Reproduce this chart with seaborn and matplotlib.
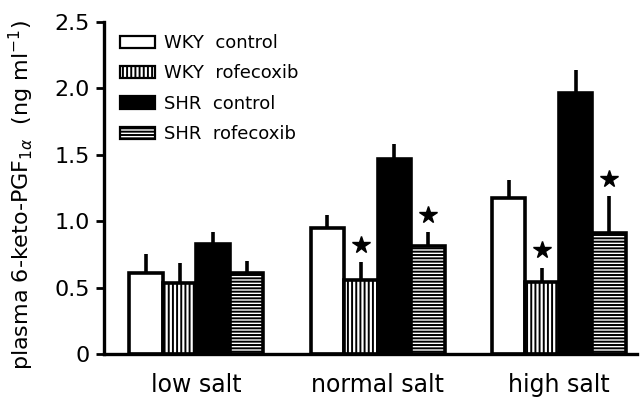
import pandas as pd
import matplotlib
matplotlib.use('Agg')
import matplotlib.pyplot as plt
import seaborn as sns
from matplotlib.patches import Patch

diets = ['low salt', 'normal salt', 'high salt']
groups = ['WKY  control', 'WKY  rofecoxib', 'SHR  control', 'SHR  rofecoxib']

# means and (upper) SEM, one list per group across diets
wky_control = [0.61, 0.95, 1.175]
wky_control_err = [0.14, 0.10, 0.135]
wky_rofecoxib = [0.535, 0.56, 0.54]
wky_rofecoxib_err = [0.15, 0.13, 0.11]
shr_control = [0.83, 1.47, 1.965]
shr_control_err = [0.09, 0.11, 0.175]
shr_rofecoxib = [0.61, 0.81, 0.91]
shr_rofecoxib_err = [0.09, 0.11, 0.28]
# significance stars per group
stars = [[False, False, False], [False, True, True],
         [False, False, False], [False, True, True]]

means = [wky_control, wky_rofecoxib, shr_control, shr_rofecoxib]
errs = [wky_control_err, wky_rofecoxib_err, shr_control_err, shr_rofecoxib_err]

df = pd.DataFrame({
    'diet': diets * 4,
    'group': [g for g in groups for _ in diets],
    'value': sum(means, []),
})

sns.set_style('ticks')
plt.rcParams['font.family'] = ['DejaVu Sans']
plt.rcParams['hatch.linewidth'] = 1.4
for k in ['text.color', 'axes.labelcolor', 'xtick.color', 'ytick.color']:
    plt.rcParams[k] = 'black'

fig = plt.figure(figsize=(6.4, 4), dpi=100)
ax = fig.add_axes([0.1625, 0.115, 0.8325, 0.83])

colors = ['white', 'white', 'black', 'white']
hatches = ['', '||||', '', '-----']
sns.barplot(data=df, x='diet', y='value', hue='group', order=diets, hue_order=groups,
            palette=colors, edgecolor='black', linewidth=2.6, width=0.74,
            errorbar=None, legend=False, saturation=1, ax=ax)

for i, cont in enumerate(ax.containers):
    for j, bar in enumerate(cont):
        bar.set_hatch(hatches[i])
        bar.set_edgecolor('black')
        x = bar.get_x() + bar.get_width() / 2
        top = means[i][j] + errs[i][j]
        ax.vlines(x, means[i][j], top, color='black', lw=2.6, zorder=1)
        if stars[i][j]:
            ax.plot(x, top + 0.13, marker='*', color='black', markersize=13, zorder=3)

handles = [Patch(facecolor=c, edgecolor='black', hatch=h, lw=1.6) for c, h in zip(colors, hatches)]
ax.legend(handles, groups, loc='upper left', bbox_to_anchor=(0.017, 0.985), frameon=False,
          fontsize=13, handlelength=1.95, handleheight=0.67, handletextpad=0.45,
          labelspacing=0.68, borderaxespad=0)

ax.set_xlim(-0.51, 2.43)
ax.set_ylim(0, 2.5)
ax.set_yticks([0, 0.5, 1.0, 1.5, 2.0, 2.5])
ax.set_yticklabels(['0', '0.5', '1.0', '1.5', '2.0', '2.5'])
ax.set_xlabel('')
ax.set_ylabel(r'plasma 6-keto-PGF$_{1\alpha}$  (ng ml$^{-1}$)', fontsize=16)
ax.yaxis.set_label_coords(-0.128, 0.48)
ax.tick_params(axis='y', labelsize=16, width=2, length=6, pad=4)
ax.tick_params(axis='x', labelsize=17, length=0, pad=14)
sns.despine(ax=ax)
for s in ['left', 'bottom']:
    ax.spines[s].set_linewidth(2.4)
    ax.spines[s].set_color('black')

fig.savefig('out.png', dpi=100)
